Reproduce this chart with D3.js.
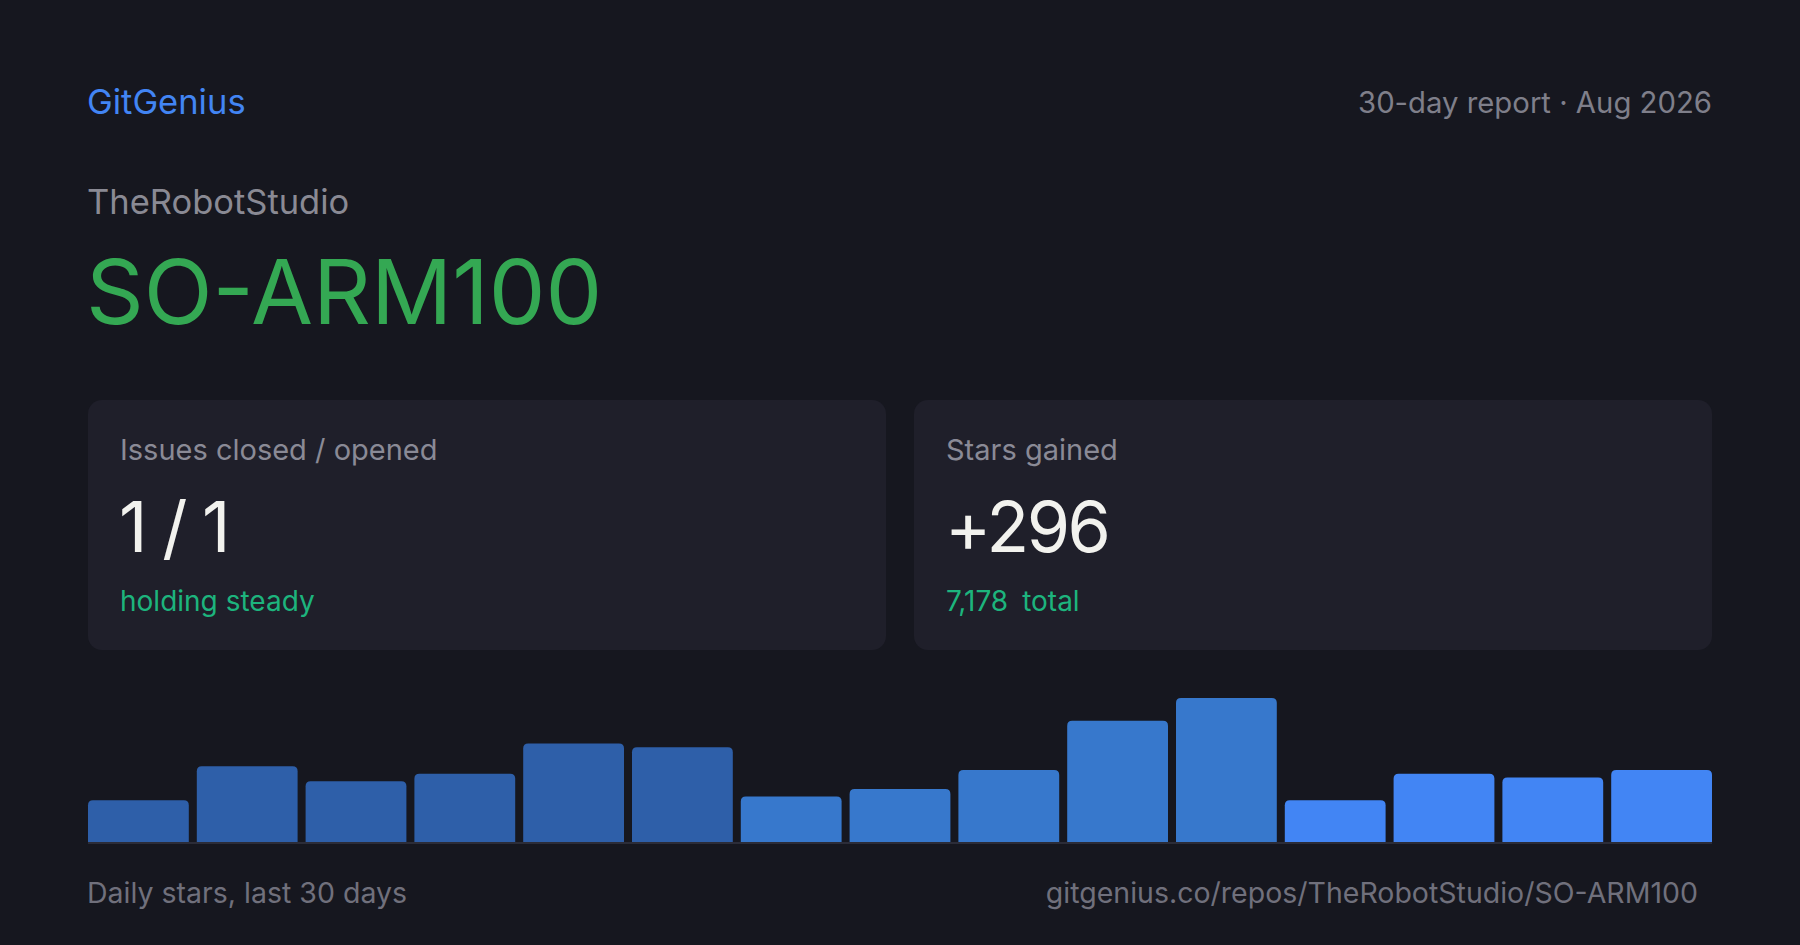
<!DOCTYPE html>
<html lang="en">
  <head>
    <meta charset="utf-8">
    <title>SO-ARM100 report</title>
    <script src="https://d3js.org/d3.v7.min.js"></script>
    <style>
      html, body { margin: 0; padding: 0; background: #16171f; }
      svg { display: block; }
      text { font-family: Inter, "Noto Sans", sans-serif; }
    </style>
  </head>
  <body>
    <div id="card"></div>
    <script>
      // data
      let days = d3.range(1, 16).map(d => "p" + d);
      let stars = [11, 20, 16, 18, 26, 25, 12, 14, 19, 32, 38, 11, 18, 17, 19];
      let cardLabels = ["Issues closed / opened", "Stars gained"];
      let cardValues = ["1 / 1", "+296"];
      let cardNotes = [["holding steady"], ["7,178", "total"]];

      let w = 1800;
      let h = 945;
      let pad = 88;

      let svg = d3.select("#card")
                  .append("svg")
                  .attr("width", w)
                  .attr("height", h);

      svg.append("rect")
         .attr("width", w)
         .attr("height", h)
         .attr("fill", "#16171f");

      // header
      svg.append("text")
         .attr("x", pad - 1).attr("y", 114)
         .attr("font-size", 34.5)
         .attr("fill", "#4285f4")
         .text("GitGenius");

      svg.append("text")
         .attr("x", w - pad).attr("y", 113)
         .attr("text-anchor", "end")
         .attr("font-size", 29.3)
         .attr("fill", "#7f7f8a")
         .text("30-day report · Aug 2026");

      svg.append("text")
         .attr("x", pad - 1).attr("y", 214)
         .attr("font-size", 34.5)
         .attr("fill", "#8a8a94")
         .text("TheRobotStudio");

      svg.append("text")
         .attr("x", pad - 2).attr("y", 324)
         .attr("font-size", 90)
         .attr("fill", "#34a853")
         .text("SO-ARM100");

      // stat cards
      let gap = 28;
      let cardW = (w - 2 * pad - gap) / 2;
      let cards = svg.selectAll("g.stat")
                     .data(cardLabels)
                     .enter()
                     .append("g")
                     .attr("class", "stat")
                     .attr("transform", (d, i) => "translate(" + (pad + i * (cardW + gap)) + ",400)");

      cards.append("rect")
           .attr("width", cardW)
           .attr("height", 250)
           .attr("rx", 14)
           .attr("fill", "#1f1f2a");

      cards.append("text")
           .attr("x", 32).attr("y", 60)
           .attr("font-size", 29)
           .attr("fill", "#8a8a96")
           .text(d => d);

      cards.append("text")
           .attr("x", 31).attr("y", 152)
           .attr("font-size", 70)
           .attr("letter-spacing", -2.5)
           .attr("fill", "#f2f2ee")
           .text((d, i) => cardValues[i]);

      cards.append("text")
           .attr("x", 32).attr("y", 211)
           .attr("font-size", 28)
           .attr("fill", "#1db47d")
           .selectAll("tspan")
           .data((d, i) => cardNotes[i])
           .enter()
           .append("tspan")
           .attr("dx", (d, i) => i ? 14 : 0)
           .text(d => d);

      // bar chart
      let base = 842;
      let chartH = 144;
      let x = d3.scaleBand()
                .domain(days)
                .range([pad, w - pad])
                .paddingInner(0.0735);
      let y = d3.scaleLinear()
                .domain([0, d3.max(stars)])
                .range([base, base - chartH]);

      function barColor(i) {
        if (i < 6) return "#2e5fa9";
        if (i < 11) return "#3778cc";
        return "#4285f4";
      }

      function topRounded(x0, y0, bw, bh, r) {
        return "M" + x0 + "," + (y0 + bh) +
               "V" + (y0 + r) +
               "Q" + x0 + "," + y0 + " " + (x0 + r) + "," + y0 +
               "H" + (x0 + bw - r) +
               "Q" + (x0 + bw) + "," + y0 + " " + (x0 + bw) + "," + (y0 + r) +
               "V" + (y0 + bh) + "Z";
      }

      svg.selectAll("path.bar")
         .data(stars)
         .enter()
         .append("path")
         .attr("class", "bar")
         .attr("d", (d, i) => topRounded(x(days[i]), y(d), x.bandwidth(), base - y(d), 5))
         .attr("fill", (d, i) => barColor(i));

      svg.append("line")
         .attr("x1", pad).attr("x2", w - pad)
         .attr("y1", base + 1).attr("y2", base + 1)
         .attr("stroke", "#2b2c38")
         .attr("stroke-width", 2);

      // footer
      svg.append("text")
         .attr("x", pad - 1).attr("y", 903)
         .attr("font-size", 28.5)
         .attr("fill", "#70707c")
         .text("Daily stars, last 30 days");

      svg.append("text")
         .attr("x", 1698).attr("y", 903)
         .attr("text-anchor", "end")
         .attr("font-size", 28.5)
         .attr("fill", "#70707c")
         .text("gitgenius.co/repos/TheRobotStudio/SO-ARM100");
    </script>
  </body>
</html>
